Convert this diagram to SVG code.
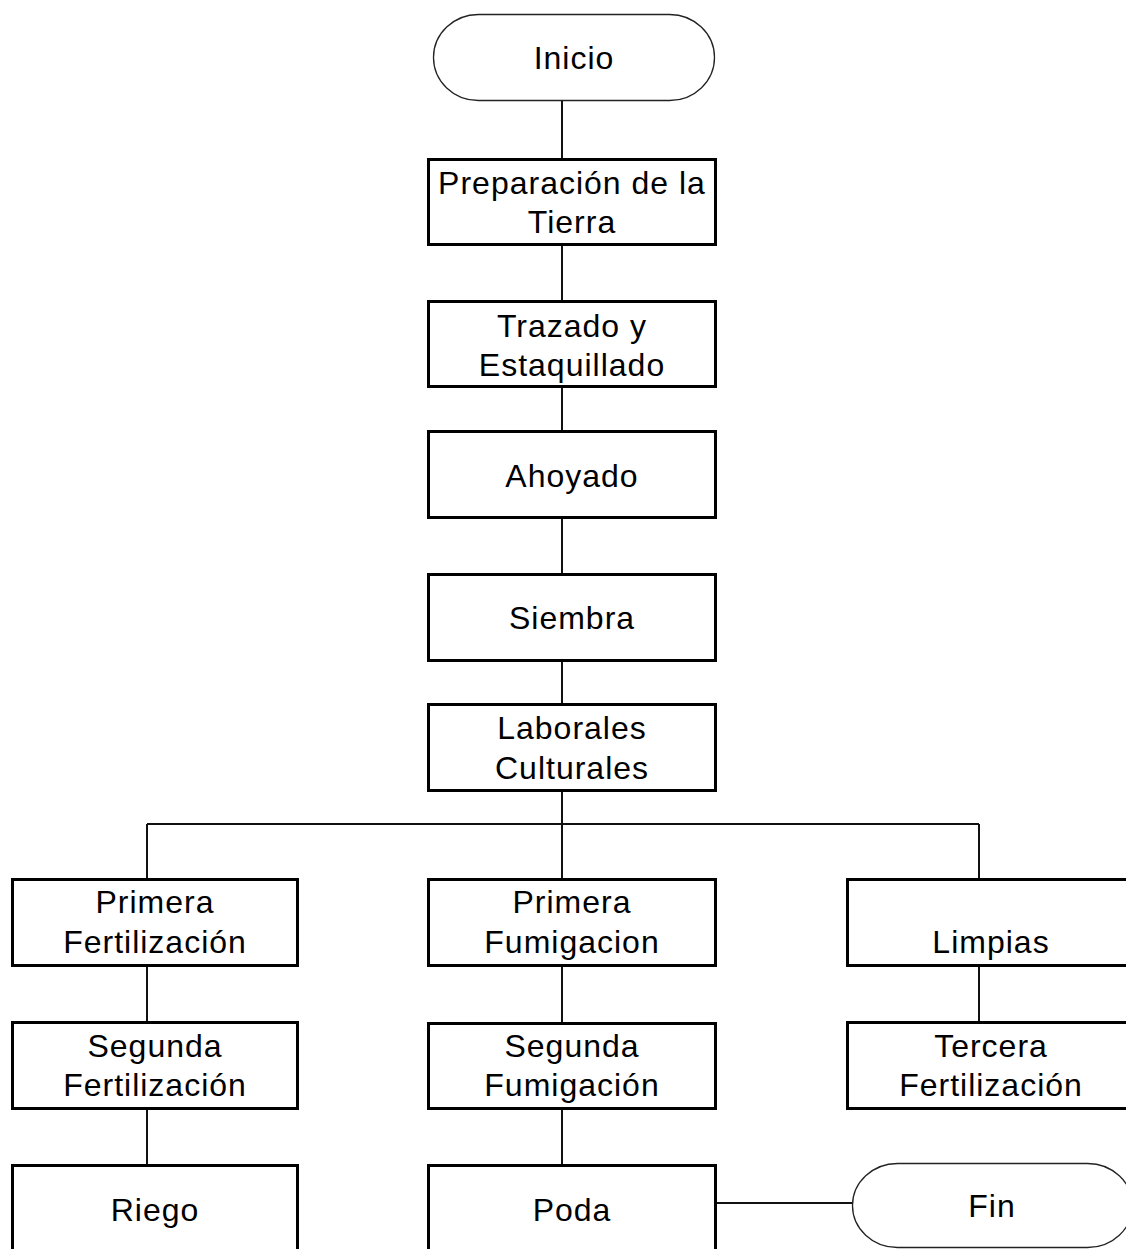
<svg xmlns="http://www.w3.org/2000/svg" width="1126" height="1249" viewBox="0 0 1126 1249">
<style>
.box{fill:#fff;stroke:#000;stroke-width:3}
.term{fill:#fff;stroke:#222;stroke-width:1.3}
.conn{stroke:#111;stroke-width:2;fill:none}
text{font-family:"Liberation Sans",Arial,sans-serif;font-size:32px;letter-spacing:1px;text-anchor:middle;fill:#000}
</style>
<rect width="1126" height="1249" fill="#fff"/>
<g id="connectors">
<line class="conn" x1="562" y1="101" x2="562" y2="158"/>
<line class="conn" x1="562" y1="246" x2="562" y2="300"/>
<line class="conn" x1="562" y1="388" x2="562" y2="430"/>
<line class="conn" x1="562" y1="519" x2="562" y2="573"/>
<line class="conn" x1="562" y1="662" x2="562" y2="703"/>
<line class="conn" x1="562" y1="792" x2="562" y2="878"/>
<line class="conn" x1="147" y1="824" x2="979" y2="824"/>
<line class="conn" x1="147" y1="824" x2="147" y2="878"/>
<line class="conn" x1="979" y1="824" x2="979" y2="878"/>
<line class="conn" x1="147" y1="967" x2="147" y2="1021"/>
<line class="conn" x1="147" y1="1110" x2="147" y2="1164"/>
<line class="conn" x1="562" y1="967" x2="562" y2="1022"/>
<line class="conn" x1="562" y1="1110" x2="562" y2="1164"/>
<line class="conn" x1="979" y1="967" x2="979" y2="1021"/>
<line class="conn" x1="717" y1="1203" x2="852" y2="1203"/>
</g>
<g id="inicio">
<rect class="term" x="433.5" y="14.5" width="281" height="86" rx="45" ry="43"/>
<text x="574" y="69">Inicio</text>
</g>
<g id="preparacion">
<rect class="box" x="428.5" y="159.5" width="287" height="85"/>
<text x="572" y="194">Preparación de la</text>
<text x="572" y="233">Tierra</text>
</g>
<g id="trazado">
<rect class="box" x="428.5" y="301.5" width="287" height="85"/>
<text x="572" y="337">Trazado y</text>
<text x="572" y="376">Estaquillado</text>
</g>
<g id="ahoyado">
<rect class="box" x="428.5" y="431.5" width="287" height="86"/>
<text x="572" y="487">Ahoyado</text>
</g>
<g id="siembra">
<rect class="box" x="428.5" y="574.5" width="287" height="86"/>
<text x="572" y="629">Siembra</text>
</g>
<g id="laborales">
<rect class="box" x="428.5" y="704.5" width="287" height="86"/>
<text x="572" y="739">Laborales</text>
<text x="572" y="779">Culturales</text>
</g>
<g id="primera-fertilizacion">
<rect class="box" x="12.5" y="879.5" width="285" height="86"/>
<text x="155" y="913">Primera</text>
<text x="155" y="953">Fertilización</text>
</g>
<g id="primera-fumigacion">
<rect class="box" x="428.5" y="879.5" width="287" height="86"/>
<text x="572" y="913">Primera</text>
<text x="572" y="953">Fumigacion</text>
</g>
<g id="limpias">
<rect class="box" x="847.5" y="879.5" width="287" height="86"/>
<text x="991" y="953">Limpias</text>
</g>
<g id="segunda-fertilizacion">
<rect class="box" x="12.5" y="1022.5" width="285" height="86"/>
<text x="155" y="1057">Segunda</text>
<text x="155" y="1096">Fertilización</text>
</g>
<g id="segunda-fumigacion">
<rect class="box" x="428.5" y="1023.5" width="287" height="85"/>
<text x="572" y="1057">Segunda</text>
<text x="572" y="1096">Fumigación</text>
</g>
<g id="tercera-fertilizacion">
<rect class="box" x="847.5" y="1022.5" width="287" height="86"/>
<text x="991" y="1057">Tercera</text>
<text x="991" y="1096">Fertilización</text>
</g>
<g id="riego">
<rect class="box" x="12.5" y="1165.5" width="285" height="100"/>
<text x="155" y="1221">Riego</text>
</g>
<g id="poda">
<rect class="box" x="428.5" y="1165.5" width="287" height="100"/>
<text x="572" y="1221">Poda</text>
</g>
<g id="fin">
<rect class="term" x="852.5" y="1163.5" width="280" height="84" rx="45" ry="42"/>
<text x="992" y="1217">Fin</text>
</g>
</svg>
